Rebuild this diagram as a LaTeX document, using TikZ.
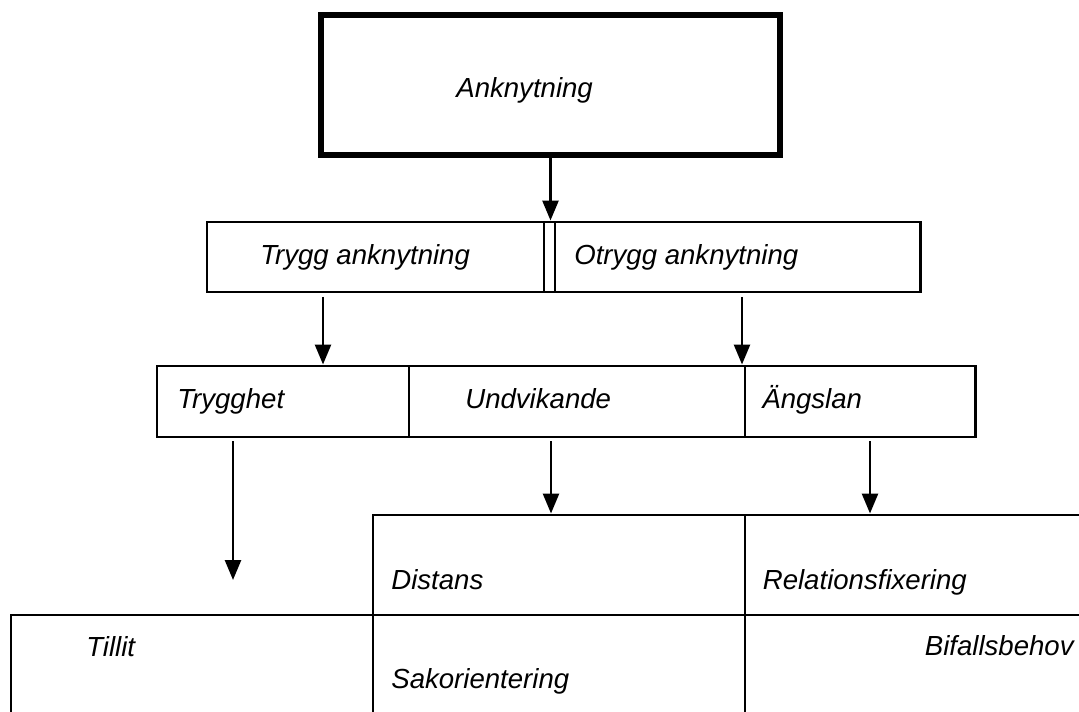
\documentclass[tikz,border=0pt]{standalone}
\usepackage{fontspec}
\setmainfont{Liberation Sans}
\usetikzlibrary{arrows.meta,positioning,calc}

\begin{document}
\begin{tikzpicture}[auto,
  box/.style={draw, line width=1.7pt, inner sep=0pt},
  bigbox/.style={draw, line width=3.6pt, inner sep=0pt},
  lbl/.style={inner sep=0pt, anchor=base west, font=\fontsize{15.7}{18}\selectfont\itshape},
  arr/.style={-{Triangle[width=0.32cm,length=0.40cm]}, line width=1.5pt}]

\useasboundingbox (0,0) rectangle (21.58,14.22);
\clip (0,0) rectangle (21.58,14.22);

\node [bigbox, minimum width=9.18cm, minimum height=2.8cm] (ank) at (11.01,12.52) {}; % top
\node [lbl] (ankt) at (9.12,12.26) {Anknytning};
%
\node [box, minimum width=14.26cm, minimum height=1.4cm] (anktyp) at (11.27,9.08) {};
\draw [line width=1.7pt] (10.88,8.38) -- (10.88,9.78);
\draw [line width=1.7pt] (11.10,8.38) -- (11.10,9.78);
\node [lbl] (trygg) at (5.20,8.92) {Trygg anknytning};
\node [lbl] (otrygg) at (11.48,8.92) {Otrygg anknytning};
%
\node [box, minimum width=5.04cm, minimum height=1.42cm] (tryggcell) at (5.66,6.19) {};
\node [box, minimum width=6.72cm, minimum height=1.42cm] (undvcell) at (11.54,6.19) {};
\node [box, minimum width=4.60cm, minimum height=1.42cm] (angcell) at (17.20,6.19) {};
\node [lbl] (trygghet) at (3.54,6.04) {Trygghet};
\node [lbl] (undv) at (9.30,6.04) {Undvikande};
\node [lbl] (angslan) at (15.24,6.04) {Ängslan};
%
\node [box, minimum width=7.44cm, minimum height=2cm] (distcell) at (11.18,2.92) {};
\node [box, minimum width=8cm, minimum height=2cm] (relcell) at (18.90,2.92) {};
\node [box, minimum width=7.24cm, minimum height=3cm] (tilcell) at (3.84,0.42) {};
\node [box, minimum width=7.44cm, minimum height=3cm] (sakcell) at (11.18,0.42) {};
\node [box, minimum width=8cm, minimum height=3cm] (bifcell) at (18.90,0.42) {};
\node [lbl] (distans) at (7.82,2.44) {Distans};
\node [lbl] (relfix) at (15.25,2.44) {Relationsfixering};
\node [lbl] (tillit) at (1.72,1.10) {Tillit};
\node [lbl] (sakor) at (7.82,0.46) {Sakorientering};
\node [lbl, anchor=base east] (bifall) at (21.48,1.12) {Bifallsbehov};

% arrows
\coordinate (p1) at (6.46,8.28);
\coordinate (p2) at (14.84,8.28);
\coordinate (q1) at (4.66,5.40);
\coordinate (q1e) at (4.66,2.62);
\coordinate (r1) at (11.02,5.40);
\coordinate (r2) at (17.40,5.40);

\draw [arr] (ank.south) -- (ank.south |- anktyp.north);
\draw [arr] (p1) -- (p1 |- tryggcell.north);
\draw [arr] (p2) -- (p2 |- undvcell.north);
\draw [arr] (q1) -- (q1e);
\draw [arr] (r1) -- (r1 |- distcell.north);
\draw [arr] (r2) -- (r2 |- relcell.north);

\end{tikzpicture}
\end{document}
